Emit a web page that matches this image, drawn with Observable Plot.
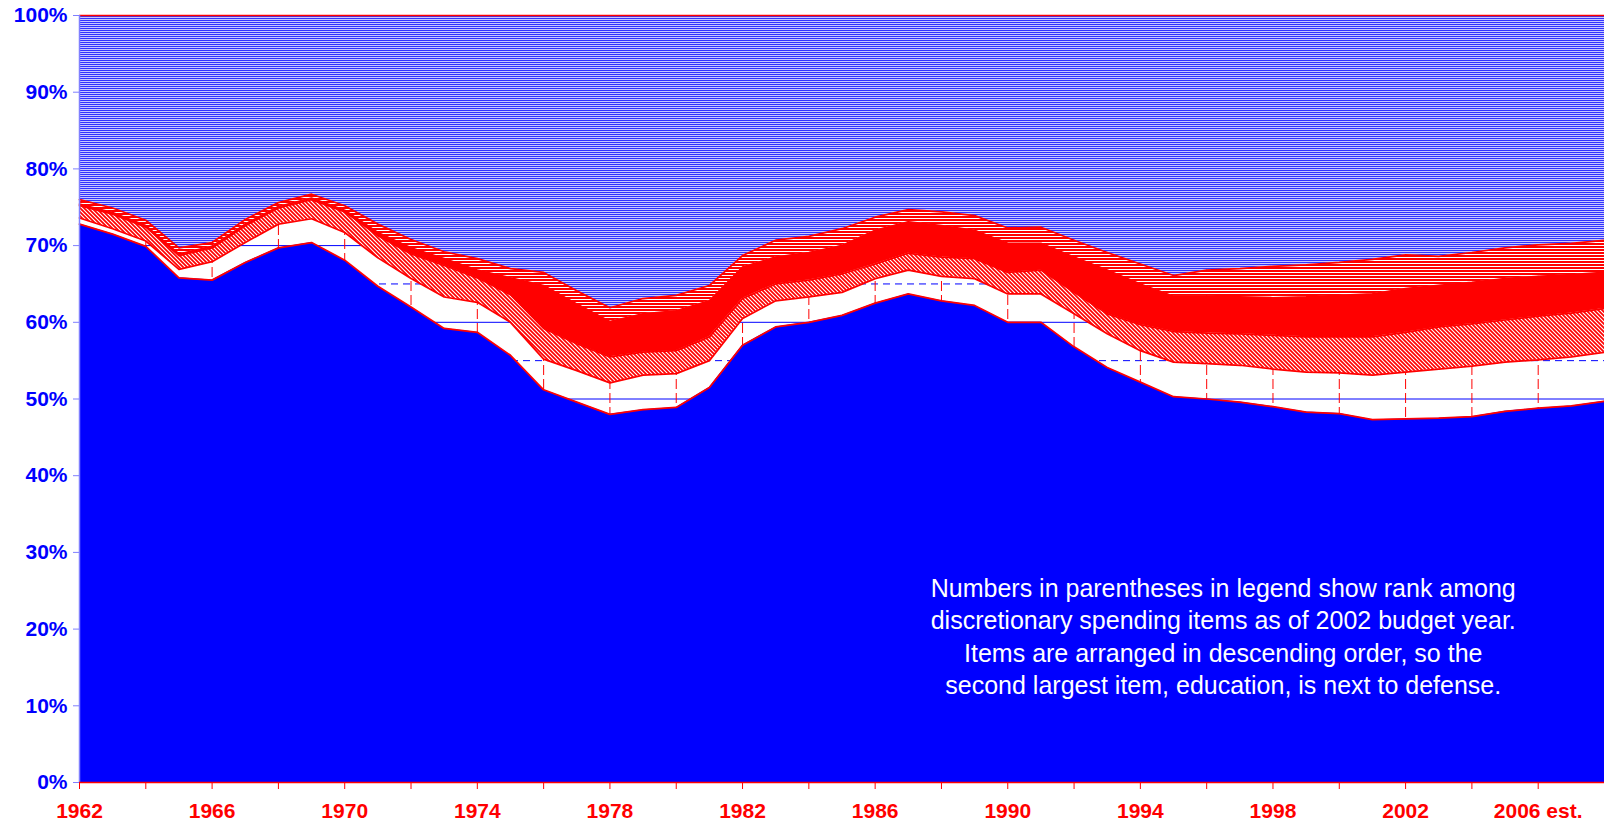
<!DOCTYPE html>
<html>
<head>
<meta charset="utf-8">
<script src="https://cdn.jsdelivr.net/npm/d3@7"></script>
<script src="https://cdn.jsdelivr.net/npm/@observablehq/plot@0.6"></script>
<style>
  html, body { margin: 0; padding: 0; background: #ffffff; }
  #chart { width: 1604px; height: 824px; overflow: hidden; }
</style>
</head>
<body>
<svg width="0" height="0" style="position:absolute">
  <defs>
    <pattern id="pBlueH" patternUnits="userSpaceOnUse" width="8" height="2">
      <rect width="8" height="2" fill="#c8c8ff"></rect>
      <rect width="8" height="1" fill="#3434ff"></rect>
    </pattern>
    <pattern id="pRedH" patternUnits="userSpaceOnUse" width="8" height="3">
      <rect width="8" height="3" fill="#ffffff"></rect>
      <rect width="8" height="2" fill="#ff0000"></rect>
    </pattern>
    <pattern id="pRedDiag" patternUnits="userSpaceOnUse" width="4" height="4">
      <rect width="4" height="4" fill="#ffffff"></rect>
      <path d="M-1,-1 L5,5 M-1,3 L1,5 M3,-1 L5,1" stroke="#ff0000" stroke-width="1.7"></path>
    </pattern>
  </defs>
</svg>
<div id="chart"></div>
<script>
// Budget years (x categories)
const years = d3.range(1962, 2009);

// Cumulative shares of discretionary spending (%),
// bottom to top: defense, + education, + third item, + fourth item, + fifth item; the rest up to 100%.
const defenseTop = [72.8,71.5,69.9,65.8,65.5,67.8,69.7,70.4,68.1,64.7,62.0,59.2,58.7,55.7,51.2,49.6,48.0,48.6,48.9,51.5,57.0,59.4,60.0,60.9,62.5,63.7,62.8,62.2,60.0,60.0,56.8,54.1,52.2,50.3,50.0,49.6,49.0,48.3,48.1,47.3,47.4,47.5,47.7,48.4,48.8,49.1,49.7];
const educationTop = [73.6,72.2,70.6,66.9,67.9,70.4,72.8,73.5,71.7,68.4,65.7,63.3,62.6,60.0,55.2,53.7,52.1,53.1,53.3,55.0,60.5,62.8,63.3,63.9,65.7,66.8,66.0,65.7,63.7,63.7,61.1,58.5,56.3,54.8,54.6,54.4,53.9,53.5,53.4,53.1,53.5,53.9,54.3,54.8,55.1,55.5,56.1];
const thirdTop = [75.2,74.1,72.4,68.7,69.7,72.6,74.9,76.0,74.4,71.3,68.9,67.4,65.8,63.6,59.2,57.2,55.5,56.1,56.3,58.1,63.1,65.0,65.5,66.3,67.6,69.0,68.5,68.3,66.5,66.8,63.9,61.1,59.7,58.8,58.6,58.5,58.3,58.1,58.1,58.1,58.7,59.4,59.8,60.3,60.8,61.2,61.8];
const fourthTop = [75.4,74.3,72.6,68.9,69.9,72.8,75.1,76.2,74.6,71.7,69.7,68.3,66.8,65.8,64.8,62.4,60.1,61.1,61.5,62.8,67.2,68.5,69.1,70.0,72.0,73.1,72.6,72.0,70.3,70.3,68.5,66.8,65.0,63.4,63.4,63.3,63.2,63.3,63.5,63.7,64.4,64.8,65.2,65.7,66.0,66.2,66.5];
const fifthTop = [76.0,74.9,73.3,69.7,70.4,73.4,75.6,76.7,75.2,72.8,70.8,69.2,68.3,67.0,66.5,64.1,61.9,63.1,63.5,64.8,68.7,70.7,71.2,72.2,73.7,74.7,74.4,73.9,72.3,72.4,70.7,69.1,67.6,66.1,66.8,67.0,67.3,67.5,67.8,68.2,68.8,68.6,69.1,69.7,70.1,70.3,70.7];

// Axis ticks and labels
const yTicks = [0,10,20,30,40,50,60,70,80,90,100];
const yMinorGrid = [5,15,25,35,45,55,65,75,85,95];
const yMajorGrid = [10,20,30,40,50,60,70,80,90];
const xTickYears = d3.range(1962, 2009, 2);
const xGridYears = d3.range(1964, 2009, 2);
const xLabelYears = [1962,1966,1970,1974,1978,1982,1986,1990,1994,1998,2002,2006];
const xLabels = ["1962","1966","1970","1974","1978","1982","1986","1990","1994","1998","2002","2006 est."];

// Note inside the chart
const noteLines = [
  "Numbers in parentheses in legend show rank among",
  "discretionary spending items as of 2002 budget year.",
  "Items are arranged in descending order, so the",
  "second largest item, education, is next to defense."
];
const noteAt = {year: 1996.5, percent: 19.2};

const rows = years.map((year, i) => ({
  year,
  defense: defenseTop[i],
  education: educationTop[i],
  third: thirdTop[i],
  fourth: fourthTop[i],
  fifth: fifthTop[i]
}));
const labelOf = new Map(xLabelYears.map((y, i) => [y, xLabels[i]]));

const RED = "#ff0000", BLUE = "#0000ff";
const font = "'Liberation Sans', Arial, Helvetica, sans-serif";

const chart = Plot.plot({
  width: 1604,
  height: 824,
  marginTop: 15,
  marginBottom: 42,
  marginLeft: 79,
  marginRight: 0,
  x: {domain: [1962, 2008]},
  y: {domain: [0, 100]},
  style: {fontFamily: font, background: "#ffffff", overflow: "visible"},
  marks: [
    // grid (only visible through the unfilled education band)
    Plot.ruleY(yMinorGrid, {stroke: BLUE, strokeWidth: 1, strokeDasharray: "7,5"}),
    Plot.ruleY(yMajorGrid, {stroke: BLUE, strokeWidth: 1}),
    Plot.ruleX(xGridYears, {stroke: RED, strokeWidth: 1, strokeDasharray: "10,4"}),
    // stacked bands
    Plot.areaY(rows, {x: "year", y1: 0, y2: "defense", fill: BLUE}),
    Plot.areaY(rows, {x: "year", y1: "education", y2: "third", fill: "url(#pRedDiag)"}),
    Plot.areaY(rows, {x: "year", y1: "third", y2: "fourth", fill: RED}),
    Plot.areaY(rows, {x: "year", y1: "fourth", y2: "fifth", fill: "url(#pRedH)"}),
    Plot.areaY(rows, {x: "year", y1: "fifth", y2: 100, fill: "url(#pBlueH)"}),
    // band outlines
    Plot.lineY(rows, {x: "year", y: "defense", stroke: RED, strokeWidth: 1.75}),
    Plot.lineY(rows, {x: "year", y: "education", stroke: RED, strokeWidth: 1.75}),
    Plot.lineY(rows, {x: "year", y: "third", stroke: RED, strokeWidth: 1.75}),
    Plot.lineY(rows, {x: "year", y: "fourth", stroke: RED, strokeWidth: 1.75}),
    Plot.lineY(rows, {x: "year", y: "fifth", stroke: RED, strokeWidth: 1.75}),
    Plot.ruleY([100], {stroke: RED, strokeWidth: 1.5}),
    // axes
    Plot.ruleX([1962], {stroke: "#7f7fff", strokeWidth: 1.5}),
    Plot.axisY(yTicks, {
      tickFormat: d => d + "%", tickSize: 6, tickPadding: 6,
      stroke: "#7f7fff", fill: BLUE, fontSize: 21, fontWeight: "bold", fontFamily: font, label: null
    }),
    Plot.axisX(xTickYears, {tickSize: 7, tickFormat: () => "", stroke: RED, label: null}),
    Plot.axisX(xLabelYears, {
      tickSize: 0, tickPadding: 21, tickFormat: d => labelOf.get(d),
      fill: RED, fontSize: 21, fontWeight: "bold", fontFamily: font, label: null
    }),
    Plot.ruleY([0], {stroke: RED, strokeWidth: 1.5}),
    // note
    Plot.text([noteLines.join("\n")], {
      x: () => noteAt.year, y: () => noteAt.percent, text: d => d,
      fill: "#ffffff", fontSize: 25, lineHeight: 1.3, textAnchor: "middle", lineAnchor: "middle", fontFamily: font
    })
  ]
});
document.getElementById("chart").append(chart);
</script>
</body>
</html>
